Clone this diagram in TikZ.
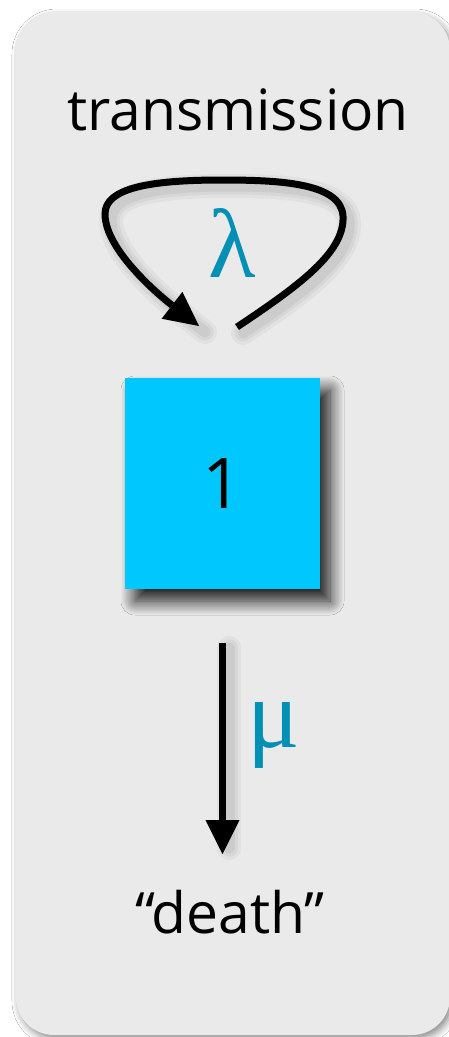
\documentclass[tikz,border=0pt]{standalone}
\usepackage{fontspec}
\setmainfont{Open Sans}
\newfontfamily\greekfont{Liberation Serif}
\usetikzlibrary{shadows.blur,arrows.meta}
\definecolor{panelgray}{RGB}{234,234,234}
\definecolor{boxblue}{RGB}{0,200,255}
\definecolor{teal}{RGB}{0,143,181}
\tikzset{
  panel/.style={fill=panelgray, rounded corners=38pt,
    blur shadow={shadow xshift=3pt, shadow yshift=-4pt, shadow blur radius=7pt, shadow opacity=45}},
  compartment/.style={fill=boxblue, minimum width=195pt, minimum height=211pt, inner sep=0pt,
    font=\fontsize{70}{76}\selectfont,
    blur shadow={shadow xshift=10pt, shadow yshift=-12pt, shadow blur radius=14pt, shadow blur steps=14, shadow opacity=90}},
  label/.style={font=\fontsize{57}{64}\selectfont, inner sep=0pt, anchor=base},
  rate/.style={text=teal, inner sep=0pt, font=\greekfont\fontsize{98}{100}\selectfont},
  flow/.style={line width=7pt},
  shadowline/.style={line cap=round},
  tipstyle/.style={-{Triangle[length=34pt,width=34pt,line width=0pt,fill=black]}},
}
\begin{document}
\begin{tikzpicture}[x=1pt,y=-1pt]
\useasboundingbox (0,0) rectangle (449,1037);
\fill[white] (0,0) rectangle (449,1037);
\path[panel] (16,12) rectangle (450,1035);

% texts
\node[label] (trans) at (238,130) {transmission};
\node[compartment] (box) at (222.5,483.5) {1};
\node[label] (death) at (230,933) {“death”};
\node[rate] (lam) at (232,243) {λ};
\node[rate] (mu) at (274,735) {μ};

% loop coordinates
\coordinate (ls) at (237,327);
\coordinate (le) at (199,326);

% soft shadows of connectors (solid tints, no opacity)
\foreach \w/\c in {24/4,17/8,11/13}{
  \draw[shadowline, line width=\w pt, draw=black!\c!panelgray]
    ([shift={(6,6)}]ls) .. controls ([shift={(6,6)}]300,285) and ([shift={(6,6)}]345,252) .. ([shift={(6,6)}]343,216)
    .. controls ([shift={(6,6)}]341,183) and ([shift={(6,6)}]280,180) .. ([shift={(6,6)}]222,180)
    .. controls ([shift={(6,6)}]150,180) and ([shift={(6,6)}]105,188) .. ([shift={(6,6)}]105,214)
    .. controls ([shift={(6,6)}]105,250) and ([shift={(6,6)}]160,296) .. ([shift={(6,6)}]le);
  \draw[shadowline, line width=\w pt, draw=black!\c!panelgray]
    (229,648) -- (229,848);
}

% self-loop (transmission)
\draw[flow, tipstyle]
  (ls) .. controls (300,285) and (345,252) .. (343,216)
  .. controls (341,183) and (280,180) .. (222,180)
  .. controls (150,180) and (105,188) .. (105,214)
  .. controls (105,250) and (160,296) .. (le);

% death flow
\draw[flow, tipstyle, shorten <=54pt]
  (box.south) -- (box.south |- 0,854);
\end{tikzpicture}
\end{document}
